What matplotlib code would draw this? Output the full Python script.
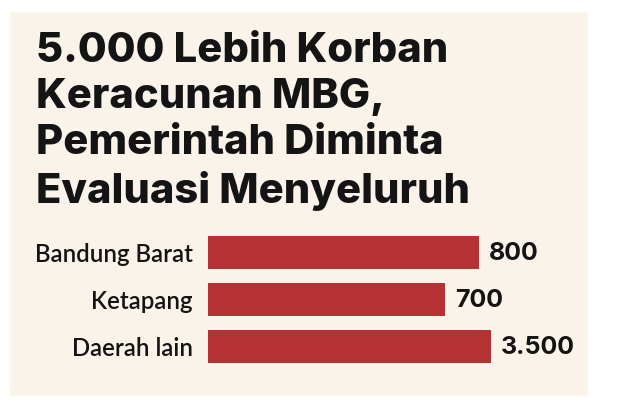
import matplotlib
matplotlib.use("Agg")
import matplotlib.pyplot as plt
from matplotlib.patches import FancyBboxPatch

# data
title = "5.000 Lebih Korban\nKeracunan MBG,\nPemerintah Diminta\nEvaluasi Menyeluruh"
categories = ["Bandung Barat", "Ketapang", "Daerah lain"]
victims = [800, 700, 3500]

bar_color = "#B53234"
panel_color = "#FAF3EA"
text_color = "#141414"

W, H = 623, 404
fig = plt.figure(figsize=(W / 100, H / 100), dpi=100)
fig.patch.set_facecolor("white")

# background panel
panel = FancyBboxPatch((10 / W, 1 - 396 / H), 578 / W, 384 / H,
                       boxstyle="round,pad=0,rounding_size=0.008",
                       transform=fig.transFigure, facecolor=panel_color,
                       edgecolor="none", zorder=-5)
fig.patches.append(panel)

fig.text(36 / W, 1 - 32 / H, title, ha="left", va="top", fontsize=30,
         fontweight=800, family=["Inter", "DejaVu Sans"], color=text_color,
         linespacing=1.27)

# bars (the axis is cut off, long bars are clipped at the right edge)
ax = fig.add_axes([208 / W, 1 - 370 / H, 283 / W, 141 / H])
ax.set_facecolor("none")
xmax = 835
y = range(len(categories))
ax.barh(y, victims, height=0.7, color=bar_color)
ax.set_xlim(0, xmax)
ax.set_ylim(len(categories) - 0.5, -0.5)
ax.set_yticks(list(y))
ax.set_yticklabels(categories, family="Lato", fontsize=17.3, fontweight=600,
                   color=text_color)
ax.tick_params(axis="y", length=0, pad=11)
ax.set_xticks([])
for s in ax.spines.values():
    s.set_visible(False)

for i, v in enumerate(victims):
    ax.annotate(f"{v:,}".replace(",", "."), (min(v, xmax), i),
                xytext=(7, -1), textcoords="offset points", va="center",
                ha="left", fontsize=18, fontweight="bold", family="Inter",
                color=text_color, annotation_clip=False)

fig.savefig("out.png", dpi=100, facecolor=fig.get_facecolor())
